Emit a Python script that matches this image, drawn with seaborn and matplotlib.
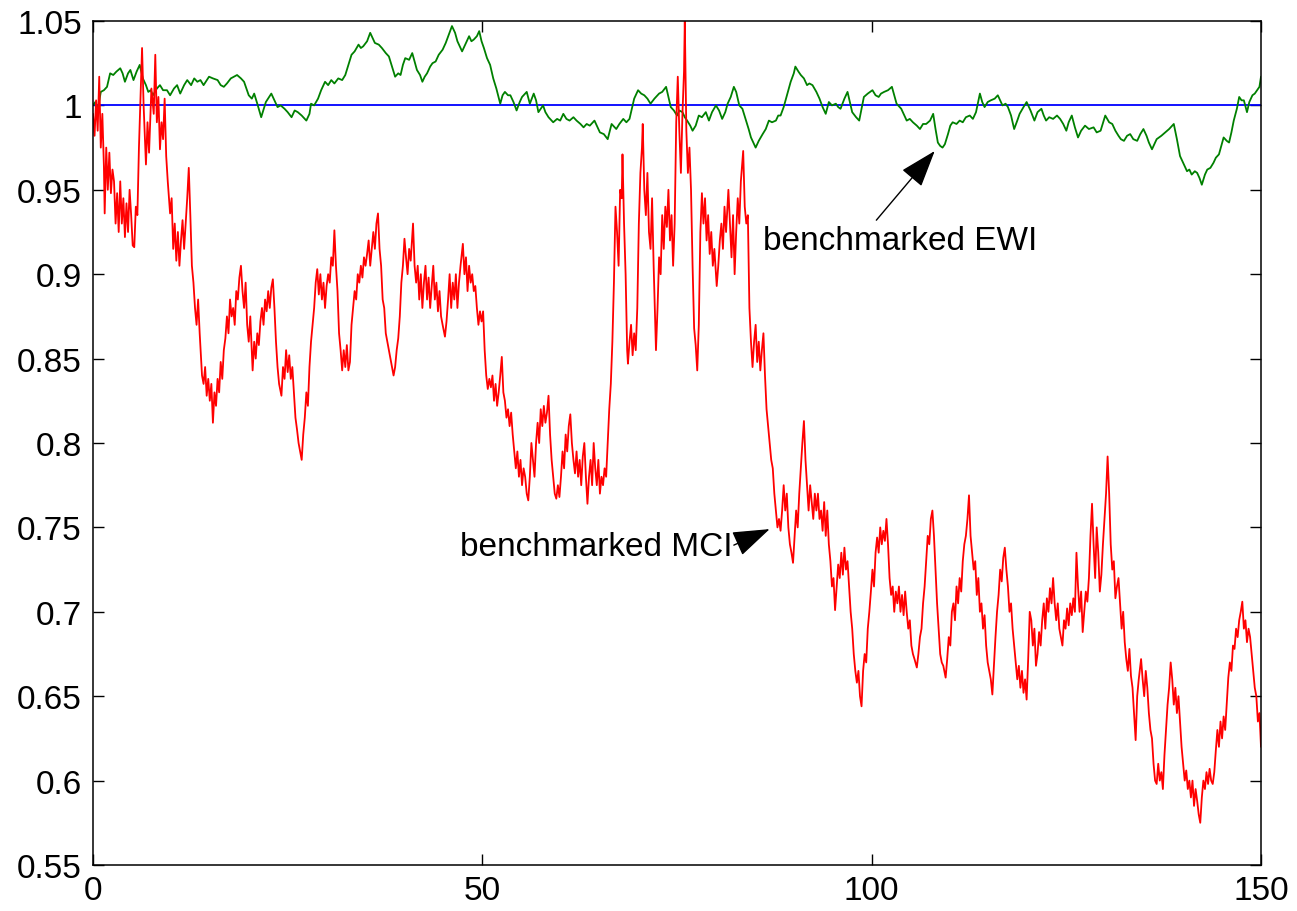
import matplotlib
matplotlib.use("Agg")
import matplotlib.pyplot as plt
import seaborn as sns

# ---------------- data ----------------
bench_t = [0.0, 150.0]
bench_v = [1.0, 1.0]

ewi_t = [0.0, 0.3, 0.6, 1.0, 1.4, 1.8, 2.2, 2.6, 3.0, 3.5, 3.8, 4.1, 4.5, 4.8, 5.2, 5.6, 6.0, 6.4, 6.8, 7.1,
         7.4, 7.7, 8.2, 8.6, 9.0, 9.5, 9.9, 10.4, 10.8, 11.2, 11.7, 12.1, 12.6, 13.0, 13.4, 13.8, 14.2, 14.9, 15.4, 16.0,
         16.4, 16.8, 17.2, 17.7, 18.1, 18.5, 19.0, 19.4, 19.7, 20.0, 20.4, 20.7, 21.1, 21.6, 22.2, 22.9, 23.3, 23.7, 24.1, 24.6,
         25.0, 25.5, 25.9, 26.3, 26.8, 27.4, 27.8, 28.0, 28.4, 28.9, 29.3, 29.8, 30.2, 30.6, 31.0, 31.5, 32.0, 32.4, 32.8, 33.2,
         33.6, 34.1, 34.4, 34.7, 35.2, 35.6, 35.9, 36.2, 36.7, 37.1, 37.6, 38.0, 38.4, 38.8, 39.2, 39.5, 39.8, 40.1, 40.6, 41.0,
         41.3, 41.6, 42.0, 42.3, 42.6, 42.9, 43.3, 43.6, 44.0, 44.4, 44.9, 45.3, 45.7, 46.1, 46.5, 46.8, 47.1, 47.4, 47.8, 48.3,
         48.6, 48.9, 49.3, 49.6, 49.9, 50.2, 50.6, 51.0, 51.4, 51.8, 52.3, 52.6, 52.9, 53.3, 53.6, 54.0, 54.4, 54.8, 55.1, 55.7,
         56.1, 56.6, 56.9, 57.2, 57.8, 58.1, 58.5, 59.1, 59.6, 60.0, 60.4, 60.8, 61.2, 61.7, 62.1, 62.6, 63.0, 63.4, 63.8, 64.4,
         64.8, 65.1, 65.6, 66.1, 66.6, 67.2, 67.6, 68.1, 68.5, 68.9, 69.5, 70.0, 70.4, 70.8, 71.2, 71.6, 72.1, 72.7, 73.1, 73.6,
         74.2, 74.6, 75.0, 75.3, 75.7, 76.0, 76.3, 76.7, 77.0, 77.4, 77.8, 78.2, 78.7, 79.1, 79.5, 80.0, 80.4, 80.8, 81.2, 81.5,
         81.9, 82.3, 82.6, 83.0, 83.4, 83.8, 84.2, 84.5, 84.8, 85.1, 85.5, 86.0, 86.4, 86.8, 87.2, 87.7, 88.0, 88.3, 88.7, 89.0,
         89.3, 89.6, 90.0, 90.2, 90.6, 90.9, 91.3, 91.7, 92.0, 92.4, 92.9, 93.3, 93.7, 94.1, 94.5, 94.9, 95.4, 95.7, 96.0, 96.5,
         96.9, 97.2, 97.5, 98.0, 98.4, 98.7, 99.0, 99.5, 100.1, 100.5, 100.9, 101.2, 101.6, 102.1, 102.6, 102.9, 103.2, 103.8, 104.2, 104.5,
         104.9, 105.3, 105.8, 106.2, 106.6, 107.0, 107.5, 107.9, 108.2, 108.5, 108.8, 109.1, 109.4, 109.8, 110.1, 110.4, 110.9, 111.3, 111.7, 112.1,
         112.6, 113.0, 113.4, 113.9, 114.2, 114.5, 114.9, 115.3, 115.8, 116.2, 116.5, 116.8, 117.2, 117.5, 117.9, 118.3, 118.7, 119.0, 119.5, 119.9,
         120.4, 120.9, 121.3, 121.8, 122.1, 122.4, 122.8, 123.3, 123.8, 124.2, 124.6, 125.0, 125.3, 125.7, 126.1, 126.5, 126.9, 127.4, 127.9, 128.5,
         128.9, 129.4, 130.0, 130.5, 130.9, 131.3, 131.7, 132.0, 132.4, 132.8, 133.2, 133.6, 134.1, 134.5, 134.9, 135.3, 135.6, 136.0, 136.3, 136.6,
         137.2, 137.7, 138.2, 138.8, 139.2, 139.6, 140.0, 140.5, 140.8, 141.1, 141.5, 141.8, 142.1, 142.4, 142.8, 143.1, 143.5, 143.9, 144.2, 144.6,
         144.9, 145.2, 145.6, 145.9, 146.2, 146.5, 146.9, 147.2, 147.5, 147.8, 148.2, 148.5, 148.9, 149.2, 149.5, 149.8, 150.0]
ewi_v = [1.000, 1.002, 0.997, 1.008, 1.009, 1.011, 1.019, 1.018, 1.020, 1.022, 1.019, 1.014, 1.019, 1.021, 1.015, 1.020, 1.024, 1.016, 1.012, 1.008,
         1.009, 1.006, 1.010, 1.012, 1.009, 1.009, 1.006, 1.010, 1.012, 1.007, 1.012, 1.015, 1.012, 1.016, 1.014, 1.015, 1.012, 1.017, 1.016, 1.015,
         1.012, 1.011, 1.013, 1.016, 1.017, 1.018, 1.016, 1.014, 1.010, 1.006, 1.004, 1.007, 1.001, 0.993, 1.002, 1.007, 1.003, 0.999, 1.000, 0.998,
         0.996, 0.993, 0.997, 0.996, 0.994, 0.991, 0.995, 1.001, 1.000, 1.004, 1.009, 1.014, 1.012, 1.015, 1.013, 1.016, 1.015, 1.018, 1.024, 1.030,
         1.032, 1.036, 1.034, 1.035, 1.038, 1.043, 1.040, 1.037, 1.036, 1.034, 1.031, 1.029, 1.023, 1.017, 1.019, 1.018, 1.024, 1.028, 1.027, 1.031,
         1.026, 1.021, 1.018, 1.014, 1.017, 1.019, 1.023, 1.025, 1.026, 1.030, 1.033, 1.037, 1.042, 1.047, 1.043, 1.038, 1.035, 1.032, 1.036, 1.041,
         1.038, 1.039, 1.041, 1.044, 1.038, 1.034, 1.028, 1.024, 1.016, 1.010, 1.001, 1.006, 1.008, 1.006, 1.006, 1.002, 0.997, 1.002, 1.005, 1.008,
         1.001, 1.007, 1.003, 0.996, 1.000, 0.996, 0.993, 0.990, 0.992, 0.991, 0.995, 0.992, 0.991, 0.993, 0.991, 0.989, 0.987, 0.989, 0.988, 0.991,
         0.987, 0.984, 0.983, 0.980, 0.989, 0.986, 0.989, 0.992, 0.990, 0.992, 1.004, 1.009, 1.007, 1.006, 1.004, 1.001, 1.004, 1.007, 1.008, 1.011,
         0.999, 0.997, 0.994, 0.997, 0.996, 0.993, 0.991, 0.988, 0.985, 0.988, 0.994, 0.993, 0.996, 0.991, 0.996, 1.000, 0.997, 0.992, 0.996, 1.001,
         1.005, 1.011, 1.008, 1.000, 0.998, 0.992, 0.986, 0.981, 0.978, 0.975, 0.979, 0.983, 0.986, 0.991, 0.990, 0.991, 0.994, 0.994, 0.999, 1.004,
         1.009, 1.014, 1.019, 1.023, 1.020, 1.018, 1.016, 1.012, 1.013, 1.012, 1.008, 1.004, 0.999, 0.995, 1.002, 1.000, 1.001, 0.999, 0.998, 1.004,
         1.008, 1.002, 0.996, 0.993, 0.991, 0.998, 1.005, 1.007, 1.009, 1.006, 1.005, 1.007, 1.008, 1.009, 1.011, 1.006, 1.001, 0.998, 0.994, 0.991,
         0.992, 0.990, 0.988, 0.986, 0.989, 0.989, 0.991, 0.995, 0.986, 0.978, 0.976, 0.975, 0.977, 0.983, 0.988, 0.990, 0.989, 0.991, 0.990, 0.993,
         0.994, 0.992, 0.996, 1.007, 1.002, 0.999, 1.002, 1.003, 1.004, 1.006, 1.003, 1.000, 1.001, 0.999, 0.994, 0.986, 0.991, 0.995, 0.999, 1.002,
         0.997, 0.991, 0.996, 0.998, 0.994, 0.991, 0.993, 0.992, 0.994, 0.992, 0.989, 0.985, 0.990, 0.994, 0.987, 0.981, 0.985, 0.988, 0.986, 0.987,
         0.984, 0.985, 0.994, 0.990, 0.989, 0.985, 0.982, 0.980, 0.979, 0.982, 0.983, 0.980, 0.979, 0.983, 0.986, 0.982, 0.978, 0.974, 0.977, 0.980,
         0.982, 0.984, 0.986, 0.989, 0.980, 0.970, 0.966, 0.961, 0.962, 0.959, 0.961, 0.960, 0.957, 0.953, 0.959, 0.962, 0.963, 0.966, 0.969, 0.971,
         0.976, 0.981, 0.979, 0.978, 0.984, 0.991, 0.998, 1.005, 1.003, 1.003, 0.996, 1.002, 1.006, 1.007, 1.009, 1.011, 1.017]

mci_t = [0.0, 0.2, 0.4, 0.6, 0.8, 1.0, 1.2, 1.4, 1.5, 1.7, 1.9, 2.1, 2.3, 2.5, 2.7, 2.9, 3.1, 3.3, 3.5, 3.7,
         3.9, 4.1, 4.3, 4.5, 4.7, 4.9, 5.1, 5.3, 5.5, 5.7, 5.9, 6.1, 6.3, 6.5, 6.8, 7.0, 7.2, 7.5, 7.8, 8.0,
         8.2, 8.4, 8.6, 8.8, 9.0, 9.2, 9.4, 9.6, 9.9, 10.1, 10.3, 10.5, 10.7, 10.9, 11.1, 11.3, 11.5, 11.7, 11.9, 12.1,
         12.3, 12.5, 12.7, 12.9, 13.1, 13.3, 13.5, 13.7, 14.0, 14.2, 14.4, 14.6, 14.8, 15.0, 15.2, 15.4, 15.6, 15.8, 16.0, 16.2,
         16.4, 16.6, 16.8, 17.0, 17.2, 17.4, 17.6, 17.8, 18.0, 18.2, 18.4, 18.6, 18.8, 19.0, 19.2, 19.4, 19.6, 19.8, 20.0, 20.2,
         20.5, 20.7, 20.9, 21.1, 21.3, 21.5, 21.7, 21.9, 22.1, 22.3, 22.5, 22.7, 22.9, 23.1, 23.3, 23.5, 23.7, 23.9, 24.2, 24.4,
         24.6, 24.8, 25.0, 25.2, 25.4, 25.6, 25.8, 26.0, 26.2, 26.4, 26.6, 26.8, 27.0, 27.2, 27.4, 27.6, 27.8, 28.0, 28.2, 28.4,
         28.6, 28.8, 29.0, 29.2, 29.4, 29.6, 29.8, 30.0, 30.2, 30.4, 30.6, 30.8, 31.0, 31.2, 31.4, 31.6, 31.8, 32.0, 32.2, 32.4,
         32.6, 32.8, 33.0, 33.2, 33.4, 33.6, 33.8, 34.0, 34.2, 34.4, 34.6, 34.8, 35.0, 35.2, 35.4, 35.6, 35.8, 36.0, 36.2, 36.4,
         36.6, 36.8, 37.0, 37.2, 37.4, 37.6, 37.8, 38.0, 38.2, 38.4, 38.6, 38.8, 39.0, 39.2, 39.4, 39.6, 39.8, 40.0, 40.2, 40.4,
         40.6, 40.8, 41.1, 41.3, 41.5, 41.7, 41.9, 42.1, 42.3, 42.5, 42.7, 42.9, 43.1, 43.3, 43.5, 43.7, 43.9, 44.1, 44.3, 44.5,
         44.7, 44.9, 45.2, 45.4, 45.6, 45.8, 46.0, 46.2, 46.4, 46.6, 46.8, 47.0, 47.2, 47.5, 47.7, 47.9, 48.1, 48.3, 48.5, 48.7,
         48.9, 49.1, 49.3, 49.5, 49.7, 49.9, 50.1, 50.3, 50.5, 50.7, 50.9, 51.1, 51.3, 51.5, 51.7, 51.9, 52.1, 52.3, 52.5, 52.7,
         52.9, 53.1, 53.3, 53.5, 53.7, 53.9, 54.1, 54.3, 54.5, 54.7, 54.9, 55.1, 55.3, 55.5, 55.7, 55.9, 56.1, 56.3, 56.5, 56.7,
         56.9, 57.1, 57.3, 57.5, 57.7, 57.9, 58.1, 58.3, 58.5, 58.7, 58.9, 59.1, 59.3, 59.5, 59.7, 59.9, 60.1, 60.3, 60.5, 60.7,
         60.9, 61.1, 61.3, 61.5, 61.7, 61.9, 62.1, 62.3, 62.5, 62.7, 62.9, 63.1, 63.3, 63.5, 63.7, 63.9, 64.1, 64.3, 64.5, 64.7,
         64.9, 65.1, 65.3, 65.5, 65.7, 65.9, 66.1, 66.3, 66.5, 66.7, 66.9, 67.1, 67.3, 67.5, 67.7, 67.9, 68.0, 68.2, 68.4, 68.6,
         68.7, 68.9, 69.1, 69.3, 69.5, 69.7, 69.9, 70.1, 70.3, 70.5, 70.6, 70.8, 71.0, 71.2, 71.4, 71.6, 71.8, 72.0, 72.3, 72.5,
         72.7, 72.9, 73.1, 73.3, 73.5, 73.7, 73.9, 74.1, 74.3, 74.5, 74.7, 74.9, 75.1, 75.3, 75.5, 75.7, 75.9, 76.0, 76.2, 76.4,
         76.6, 76.8, 77.0, 77.2, 77.4, 77.6, 77.8, 78.0, 78.2, 78.4, 78.6, 78.8, 79.0, 79.2, 79.4, 79.6, 79.8, 80.1, 80.3, 80.5,
         80.7, 80.9, 81.1, 81.3, 81.6, 81.8, 82.0, 82.2, 82.4, 82.6, 82.8, 83.0, 83.2, 83.5, 83.7, 83.9, 84.1, 84.3, 84.5, 84.7,
         84.9, 85.1, 85.3, 85.5, 85.7, 85.9, 86.1, 86.3, 86.5, 86.7, 86.9, 87.1, 87.3, 87.5, 87.7, 87.9, 88.1, 88.3, 88.5, 88.7,
         88.9, 89.1, 89.3, 89.5, 89.7, 89.9, 90.1, 90.3, 90.5, 90.7, 90.9, 91.1, 91.3, 91.5, 91.7, 91.9, 92.1, 92.3, 92.5, 92.7,
         92.9, 93.1, 93.3, 93.5, 93.7, 93.9, 94.1, 94.3, 94.5, 94.7, 94.9, 95.1, 95.3, 95.5, 95.7, 95.9, 96.1, 96.3, 96.5, 96.7,
         96.9, 97.1, 97.3, 97.5, 97.7, 97.9, 98.1, 98.3, 98.5, 98.7, 98.9, 99.1, 99.3, 99.5, 99.7, 99.9, 100.1, 100.3, 100.5, 100.7,
         100.9, 101.1, 101.3, 101.5, 101.7, 101.9, 102.1, 102.3, 102.5, 102.7, 102.9, 103.1, 103.3, 103.5, 103.7, 103.9, 104.1, 104.3, 104.5, 104.7,
         104.9, 105.1, 105.3, 105.5, 105.8, 106.0, 106.2, 106.4, 106.6, 106.8, 107.0, 107.2, 107.4, 107.6, 107.8, 108.0, 108.2, 108.4, 108.6, 108.8,
         109.0, 109.2, 109.5, 109.7, 109.9, 110.1, 110.3, 110.5, 110.7, 110.9, 111.1, 111.3, 111.5, 111.7, 111.9, 112.1, 112.3, 112.5, 112.7, 112.9,
         113.1, 113.3, 113.5, 113.7, 113.9, 114.1, 114.3, 114.5, 114.7, 114.9, 115.1, 115.3, 115.5, 115.7, 115.9, 116.1, 116.3, 116.5, 116.7, 116.9,
         117.1, 117.3, 117.5, 117.7, 117.9, 118.1, 118.3, 118.5, 118.7, 118.9, 119.1, 119.3, 119.5, 119.7, 119.9, 120.1, 120.3, 120.5, 120.7, 120.9,
         121.1, 121.3, 121.5, 121.7, 121.9, 122.1, 122.3, 122.5, 122.7, 122.9, 123.1, 123.3, 123.5, 123.7, 123.9, 124.1, 124.3, 124.5, 124.7, 124.9,
         125.1, 125.3, 125.5, 125.7, 125.9, 126.1, 126.3, 126.5, 126.7, 126.9, 127.1, 127.3, 127.5, 127.7, 127.9, 128.1, 128.3, 128.5, 128.7, 128.9,
         129.1, 129.3, 129.5, 129.7, 129.9, 130.1, 130.3, 130.5, 130.7, 130.9, 131.1, 131.3, 131.5, 131.7, 131.9, 132.1, 132.3, 132.5, 132.7, 132.9,
         133.1, 133.3, 133.5, 133.7, 133.9, 134.1, 134.3, 134.6, 134.8, 135.0, 135.2, 135.4, 135.6, 135.8, 136.0, 136.2, 136.4, 136.6, 136.8, 137.0,
         137.2, 137.4, 137.6, 137.8, 138.0, 138.2, 138.4, 138.6, 138.8, 139.0, 139.2, 139.4, 139.6, 139.8, 140.0, 140.2, 140.4, 140.6, 140.8, 141.0,
         141.2, 141.4, 141.6, 141.8, 142.0, 142.2, 142.4, 142.6, 142.8, 143.0, 143.2, 143.4, 143.6, 143.8, 144.0, 144.2, 144.4, 144.6, 144.8, 145.0,
         145.2, 145.4, 145.6, 145.8, 146.0, 146.2, 146.4, 146.6, 146.8, 147.0, 147.2, 147.4, 147.6, 147.8, 148.0, 148.2, 148.4, 148.6, 148.8, 149.0,
         149.2, 149.4, 149.6, 149.8, 150.0]
mci_v = [0.995, 0.982, 1.003, 0.985, 1.017, 0.975, 0.995, 0.964, 0.936, 0.975, 0.950, 0.972, 0.948, 0.962, 0.955, 0.930, 0.948, 0.925, 0.955, 0.930,
         0.945, 0.922, 0.942, 0.925, 0.950, 0.935, 0.917, 0.916, 0.940, 0.935, 0.975, 1.005, 1.034, 1.000, 0.965, 0.990, 0.972, 1.010, 0.995, 1.030,
         0.990, 1.005, 0.974, 0.990, 0.980, 1.004, 0.970, 0.955, 0.936, 0.945, 0.915, 0.930, 0.908, 0.925, 0.905, 0.920, 0.932, 0.915, 0.930, 0.945,
         0.963, 0.935, 0.905, 0.895, 0.880, 0.870, 0.885, 0.865, 0.840, 0.835, 0.845, 0.828, 0.838, 0.825, 0.835, 0.812, 0.830, 0.822, 0.838, 0.830,
         0.848, 0.838, 0.855, 0.862, 0.875, 0.865, 0.885, 0.875, 0.880, 0.870, 0.890, 0.885, 0.898, 0.905, 0.890, 0.880, 0.895, 0.870, 0.860, 0.875,
         0.843, 0.860, 0.850, 0.865, 0.858, 0.872, 0.880, 0.870, 0.885, 0.878, 0.890, 0.880, 0.892, 0.897, 0.880, 0.860, 0.845, 0.835, 0.828, 0.845,
         0.838, 0.855, 0.842, 0.852, 0.838, 0.845, 0.830, 0.815, 0.808, 0.800, 0.795, 0.790, 0.805, 0.815, 0.830, 0.822, 0.845, 0.860, 0.870, 0.880,
         0.895, 0.903, 0.888, 0.900, 0.885, 0.895, 0.880, 0.893, 0.900, 0.895, 0.910, 0.905, 0.926, 0.905, 0.890, 0.865, 0.855, 0.843, 0.855, 0.845,
         0.858, 0.843, 0.848, 0.870, 0.880, 0.890, 0.885, 0.900, 0.895, 0.905, 0.898, 0.910, 0.905, 0.912, 0.920, 0.905, 0.915, 0.925, 0.915, 0.930,
         0.936, 0.915, 0.905, 0.885, 0.880, 0.865, 0.860, 0.855, 0.850, 0.845, 0.840, 0.845, 0.855, 0.862, 0.875, 0.895, 0.905, 0.921, 0.910, 0.900,
         0.915, 0.908, 0.930, 0.905, 0.895, 0.905, 0.885, 0.900, 0.880, 0.895, 0.905, 0.885, 0.898, 0.880, 0.893, 0.905, 0.885, 0.895, 0.878, 0.890,
         0.875, 0.870, 0.863, 0.872, 0.885, 0.900, 0.880, 0.895, 0.885, 0.900, 0.880, 0.895, 0.905, 0.918, 0.900, 0.910, 0.890, 0.905, 0.895, 0.900,
         0.890, 0.893, 0.880, 0.870, 0.878, 0.872, 0.878, 0.855, 0.840, 0.832, 0.838, 0.833, 0.840, 0.825, 0.835, 0.822, 0.830, 0.840, 0.851, 0.830,
         0.825, 0.815, 0.820, 0.810, 0.818, 0.805, 0.795, 0.785, 0.795, 0.780, 0.790, 0.775, 0.785, 0.780, 0.770, 0.766, 0.780, 0.800, 0.790, 0.780,
         0.800, 0.812, 0.800, 0.820, 0.810, 0.822, 0.812, 0.818, 0.828, 0.805, 0.790, 0.780, 0.770, 0.767, 0.775, 0.768, 0.780, 0.795, 0.785, 0.805,
         0.795, 0.810, 0.817, 0.800, 0.790, 0.782, 0.795, 0.780, 0.790, 0.775, 0.792, 0.800, 0.780, 0.764, 0.780, 0.790, 0.775, 0.800, 0.785, 0.775,
         0.790, 0.770, 0.780, 0.775, 0.785, 0.780, 0.800, 0.820, 0.835, 0.860, 0.895, 0.940, 0.925, 0.905, 0.950, 0.945, 0.971, 0.930, 0.900, 0.855,
         0.847, 0.860, 0.870, 0.852, 0.865, 0.855, 0.880, 0.930, 0.960, 0.975, 0.989, 0.950, 0.935, 0.960, 0.925, 0.915, 0.945, 0.905, 0.855, 0.880,
         0.910, 0.900, 0.935, 0.915, 0.940, 0.928, 0.950, 0.920, 0.935, 0.905, 0.930, 0.990, 1.017, 0.985, 0.960, 0.995, 1.020, 1.050, 0.985, 0.960,
         0.975, 0.950, 0.905, 0.868, 0.858, 0.843, 0.870, 0.925, 0.948, 0.930, 0.945, 0.920, 0.935, 0.912, 0.925, 0.905, 0.915, 0.893, 0.905, 0.920,
         0.930, 0.915, 0.940, 0.925, 0.950, 0.930, 0.910, 0.935, 0.900, 0.925, 0.945, 0.930, 0.955, 0.973, 0.940, 0.930, 0.935, 0.880, 0.860, 0.845,
         0.860, 0.870, 0.848, 0.860, 0.843, 0.855, 0.865, 0.840, 0.820, 0.810, 0.800, 0.790, 0.785, 0.770, 0.760, 0.750, 0.755, 0.748, 0.760, 0.775,
         0.760, 0.770, 0.750, 0.740, 0.735, 0.729, 0.745, 0.760, 0.750, 0.770, 0.785, 0.800, 0.813, 0.790, 0.775, 0.760, 0.775, 0.765, 0.755, 0.770,
         0.760, 0.770, 0.755, 0.760, 0.748, 0.765, 0.745, 0.760, 0.740, 0.730, 0.715, 0.720, 0.701, 0.715, 0.728, 0.720, 0.735, 0.722, 0.738, 0.725,
         0.730, 0.715, 0.700, 0.690, 0.675, 0.665, 0.658, 0.665, 0.650, 0.644, 0.665, 0.675, 0.670, 0.690, 0.700, 0.712, 0.725, 0.715, 0.735, 0.744,
         0.735, 0.750, 0.740, 0.748, 0.742, 0.755, 0.740, 0.720, 0.710, 0.715, 0.700, 0.712, 0.705, 0.715, 0.700, 0.710, 0.698, 0.712, 0.700, 0.690,
         0.695, 0.680, 0.675, 0.672, 0.667, 0.675, 0.685, 0.690, 0.705, 0.715, 0.730, 0.745, 0.740, 0.755, 0.760, 0.745, 0.725, 0.705, 0.690, 0.675,
         0.670, 0.668, 0.661, 0.672, 0.685, 0.680, 0.700, 0.705, 0.695, 0.715, 0.705, 0.720, 0.712, 0.730, 0.740, 0.745, 0.755, 0.769, 0.745, 0.735,
         0.725, 0.730, 0.710, 0.720, 0.700, 0.705, 0.690, 0.698, 0.680, 0.670, 0.665, 0.660, 0.651, 0.668, 0.685, 0.700, 0.710, 0.725, 0.718, 0.732,
         0.738, 0.725, 0.715, 0.700, 0.705, 0.690, 0.680, 0.670, 0.660, 0.668, 0.655, 0.665, 0.652, 0.660, 0.648, 0.672, 0.700, 0.695, 0.680, 0.690,
         0.668, 0.675, 0.688, 0.680, 0.695, 0.705, 0.690, 0.708, 0.700, 0.714, 0.705, 0.720, 0.705, 0.695, 0.705, 0.690, 0.685, 0.680, 0.695, 0.690,
         0.702, 0.692, 0.705, 0.698, 0.708, 0.700, 0.735, 0.715, 0.700, 0.712, 0.688, 0.700, 0.712, 0.706, 0.720, 0.745, 0.764, 0.740, 0.720, 0.750,
         0.735, 0.712, 0.722, 0.740, 0.755, 0.770, 0.792, 0.770, 0.740, 0.725, 0.730, 0.708, 0.715, 0.720, 0.705, 0.690, 0.700, 0.682, 0.672, 0.665,
         0.678, 0.662, 0.655, 0.640, 0.624, 0.650, 0.660, 0.672, 0.660, 0.650, 0.665, 0.655, 0.640, 0.630, 0.625, 0.610, 0.600, 0.598, 0.610, 0.600,
         0.605, 0.595, 0.615, 0.630, 0.645, 0.655, 0.670, 0.660, 0.645, 0.655, 0.640, 0.650, 0.635, 0.620, 0.610, 0.600, 0.606, 0.595, 0.600, 0.590,
         0.600, 0.585, 0.595, 0.588, 0.580, 0.575, 0.590, 0.600, 0.595, 0.605, 0.598, 0.607, 0.600, 0.598, 0.605, 0.618, 0.630, 0.620, 0.635, 0.625,
         0.638, 0.630, 0.645, 0.661, 0.670, 0.665, 0.680, 0.678, 0.690, 0.685, 0.695, 0.700, 0.706, 0.690, 0.695, 0.682, 0.690, 0.685, 0.675, 0.665,
         0.655, 0.650, 0.635, 0.640, 0.620]

x_ticks = [0, 50, 100, 150]
x_tick_labels = ["0", "50", "100", "150"]
y_ticks = [0.55, 0.6, 0.65, 0.7, 0.75, 0.8, 0.85, 0.9, 0.95, 1.0, 1.05]
y_tick_labels = ["0.55", "0.6", "0.65", "0.7", "0.75", "0.8", "0.85", "0.9", "0.95", "1", "1.05"]

ewi_label = "benchmarked EWI"
mci_label = "benchmarked MCI"

n_e = min(len(ewi_t), len(ewi_v))
n_m = min(len(mci_t), len(mci_v))
ewi_t, ewi_v = ewi_t[:n_e], ewi_v[:n_e]
mci_t, mci_v = mci_t[:n_m], mci_v[:n_m]

# ---------------- styling ----------------
sns.set_style("ticks")
plt.rcParams["font.family"] = ["Liberation Sans", "DejaVu Sans"]

W, H = 1297, 912
fig = plt.figure(figsize=(W / 100, H / 100), dpi=100)
ax = fig.add_axes([93 / W, 1 - 866 / H, (1261 - 93) / W, (866 - 22) / H])

sns.lineplot(x=bench_t, y=bench_v, color="#0000ff", linewidth=1.3, ax=ax, estimator=None)
sns.lineplot(x=ewi_t, y=ewi_v, color="#008000", linewidth=1.3, ax=ax, estimator=None)
sns.lineplot(x=mci_t, y=mci_v, color="#ff0000", linewidth=1.3, ax=ax, estimator=None)

ax.set_xlim(0, 150)
ax.set_ylim(0.55, 1.05)
ax.set_xticks(x_ticks)
ax.set_xticklabels(x_tick_labels)
ax.set_yticks(y_ticks)
ax.set_yticklabels(y_tick_labels)
ax.set_xlabel("")
ax.set_ylabel("")
ax.tick_params(axis="both", which="both", direction="in", top=True, right=True,
               length=8, width=1.0, labelsize=24, colors="black")
ax.tick_params(axis="x", pad=7)
ax.tick_params(axis="y", pad=8)
for s in ax.spines.values():
    s.set_visible(True)
    s.set_linewidth(1.1)
    s.set_color("black")

arrow_kw = dict(arrowstyle="-|>,head_length=1.3,head_width=0.45", color="black",
                lw=1.0, mutation_scale=18, shrinkA=0, shrinkB=0)

# EWI annotation
ax.text(86.0, 0.920, ewi_label, ha="left", va="center", fontsize=24, color="black")
ax.annotate("", xy=(108.1, 0.973), xytext=(100.6, 0.932), arrowprops=arrow_kw)

# MCI annotation
ax.text(82.1, 0.7385, mci_label, ha="right", va="center", fontsize=24, color="black")
ax.annotate("", xy=(86.9, 0.749), xytext=(82.3, 0.7395), arrowprops=arrow_kw)

fig.savefig("out.png", dpi=100)
